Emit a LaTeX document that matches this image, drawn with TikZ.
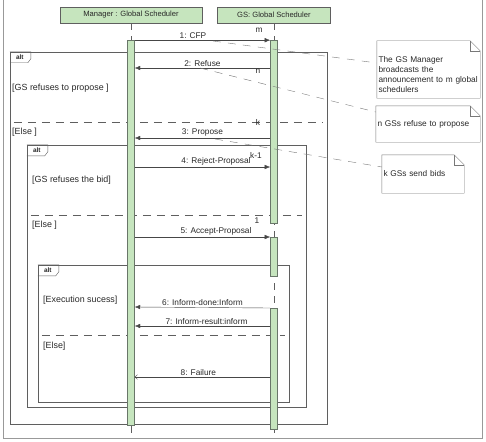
\documentclass[tikz,border=0pt]{standalone}
\usepackage{fontspec}
\setmainfont{Liberation Sans}
\usepackage{tikz}
\usetikzlibrary{positioning}
\usetikzlibrary{calc}
\usetikzlibrary{arrows.meta}

\definecolor{umlgreen}{RGB}{198,229,190}
\definecolor{bargray}{RGB}{105,118,105}
\definecolor{fraggray}{RGB}{95,95,95}
\definecolor{msggray}{RGB}{70,70,70}
\definecolor{notegray}{RGB}{120,120,120}
\definecolor{txtgray}{RGB}{40,40,40}

\tikzset{
  lifehead/.style={draw=fraggray, fill=umlgreen, minimum height=16pt, inner sep=1pt,
    font=\fontsize{7.6}{8}\selectfont, text=txtgray},
  actbar/.style={draw=bargray, fill=umlgreen, minimum width=7pt, inner sep=0pt},
  lifeline/.style={draw=fraggray, dash pattern=on 7pt off 6pt},
  call/.style={draw=msggray, -{Latex[length=5.5pt,width=4.5pt]}},
  reply/.style={draw=msggray, -{To[length=3pt,width=5pt]}},
  lbl/.style={above, inner sep=1.5pt, font=\fontsize{8.3}{9}\selectfont, text=txtgray},
  mult/.style={inner sep=0pt, font=\fontsize{8.3}{9}\selectfont, text=txtgray},
  frag/.style={draw=fraggray, inner sep=0pt},
  guard/.style={anchor=west, inner sep=0pt, font=\fontsize{8.9}{10}\selectfont, text=txtgray},
  sep/.style={draw=fraggray, dash pattern=on 8pt off 6pt, shorten <=4pt, shorten >=4pt},
  tabtxt/.style={inner sep=0pt, font=\bfseries\fontsize{6.5}{7}\selectfont, text=txtgray},
  notebox/.style={inner xsep=1.5pt, inner ysep=0pt, align=left,
    font=\fontsize{8.3}{10}\selectfont, text=txtgray},
  noteline/.style={draw=notegray, dash pattern=on 8pt off 7pt},
}

% UML note with folded corner round a node
\newcommand{\drawnote}[1]{%
  \draw[notegray] (#1.north west) -- ([xshift=-10pt]#1.north east)
    -- ([yshift=-10pt]#1.north east) -- (#1.south east) -- (#1.south west) -- cycle;
  \draw[notegray] ([xshift=-10pt]#1.north east) -- ([xshift=-10pt,yshift=-10pt]#1.north east)
    -- ([yshift=-10pt]#1.north east);
}
% "alt" tab in the corner of a fragment
\newcommand{\fragtab}[1]{%
  \draw[fraggray] (#1.north west) -- ++(21,0) -- ++(0,7) -- ++(-3,4) -- ++(-18,0);
  \node[tabtxt] at ([xshift=10pt,yshift=-5.5pt]#1.north west) {alt};
}

\begin{document}
\begin{tikzpicture}[x=1pt, y=-1pt]
    \useasboundingbox (0,0) rectangle (486,441);
    \draw[gray!80, line width=0.8pt] (3,0) -- (3,438) -- (482,438) -- (482,0);

    % fragments
    \node[frag, minimum width=317pt, minimum height=372pt] (alt1) at (168.5,238) {};
    \node[frag, minimum width=279pt, minimum height=262pt] (alt2) at (166.5,276) {};
    \node[frag, minimum width=251pt, minimum height=137pt] (alt3) at (163.5,333.5) {};
    \fragtab{alt1}
    \fragtab{alt2}
    \fragtab{alt3}
    \draw[sep] (alt1.west |- 0,122) -- (alt1.east |- 0,122);
    \draw[sep] (alt2.west |- 0,215) -- (alt2.east |- 0,215);
    \draw[sep] (alt3.west |- 0,335) -- (alt3.east |- 0,335);

    \node[guard] (g1) at (12,88) {[GS refuses to propose ]};
    \node[guard] (g2) at (12,132) {[Else ]};
    \node[guard] (g3) at (32,180) {[GS refuses the bid]};
    \node[guard] (g4) at (32,225) {[Else ]};
    \node[guard] (g5) at (43,300) {[Execution sucess]};
    \node[guard] (g6) at (43,346) {[Else]};

    % lifelines
    \node[lifehead, minimum width=142pt] (mgr) at (131,15) {Manager : Global Scheduler};
    \node[lifehead, minimum width=113pt, right=15pt of mgr] (gs) {GS: Global Scheduler};
    \draw[lifeline] (mgr.south) -- (mgr.south |- 0,438);
    \draw[lifeline] (gs.south) -- (gs.south |- 0,438);

    \node[actbar, minimum height=385pt, below=17pt of mgr] (mbar) {};
    \node[actbar, minimum height=183pt, below=17pt of gs] (gsbar1) {};
    \node[actbar, minimum height=39pt, below=13pt of gsbar1] (gsbar2) {};
    \node[actbar, minimum height=121pt, below=32pt of gsbar2] (gsbar3) {};

    % messages
    \draw[call] (mbar.north east) -- node[lbl, pos=.43] {1: CFP} (gsbar1.north west);
    \draw[call] (gsbar1.west |- 0,68) -- node[lbl] {2: Refuse} (mbar.east |- 0,68);
    \draw[call] (gsbar1.west |- 0,138) -- node[lbl] {3: Propose} (mbar.east |- 0,138);
    \draw[call] (mbar.east |- 0,167) -- node[lbl, pos=.6] {4: Reject-Proposal} (gsbar1.west |- 0,167);
    \draw[call] (mbar.east |- 0,237) -- node[lbl, pos=.6] {5: Accept-Proposal} (gsbar2.west |- 0,237);
    \draw[call] (gsbar3.north west) -- node[lbl] {6: Inform-done:Inform} (mbar.east |- 0,307);
    \draw[call] (gsbar3.west |- 0,326) -- node[lbl, pos=.47] {7: Inform-result:inform} (mbar.east |- 0,326);
    \draw[reply] (gsbar3.west |- 0,377) -- node[lbl, pos=.53] {8: Failure} (mbar.east |- 0,377);

    \node[mult] (mm) at (259,30) {m};
    \node[mult] (mn) at (258,71) {n};
    \node[mult] (mk) at (258,122) {k};
    \node[mult] (mk1) at (256,155) {k-1};
    \node[mult] (m1) at (257,221) {1};

    % notes
    \node[notebox, text width=100pt, minimum height=57pt] (note1) at (428.5,69.5)
      {\rule{0pt}{16pt}The GS Manager\\broadcasts the\\announcement to m global\\schedulers};
    \node[notebox, text width=101pt, minimum height=36pt] (note2) at (428,124) {n GSs refuse to propose};
    \node[notebox, text width=79pt, minimum height=38pt] (note3) at (423,174) {k GSs send bids};
    \drawnote{note1}
    \drawnote{note2}
    \drawnote{note3}

    \coordinate (c1) at (213,41);
    \coordinate (c2) at (200,68);
    \coordinate (c3) at (215,139);
    \draw[noteline] (c1) -- (note1.west |- 0,63);
    \draw[noteline] (c2) -- (note2.west |- 0,112);
    \draw[noteline] (c3) -- (note3.west |- 0,167);
\end{tikzpicture}
\end{document}
